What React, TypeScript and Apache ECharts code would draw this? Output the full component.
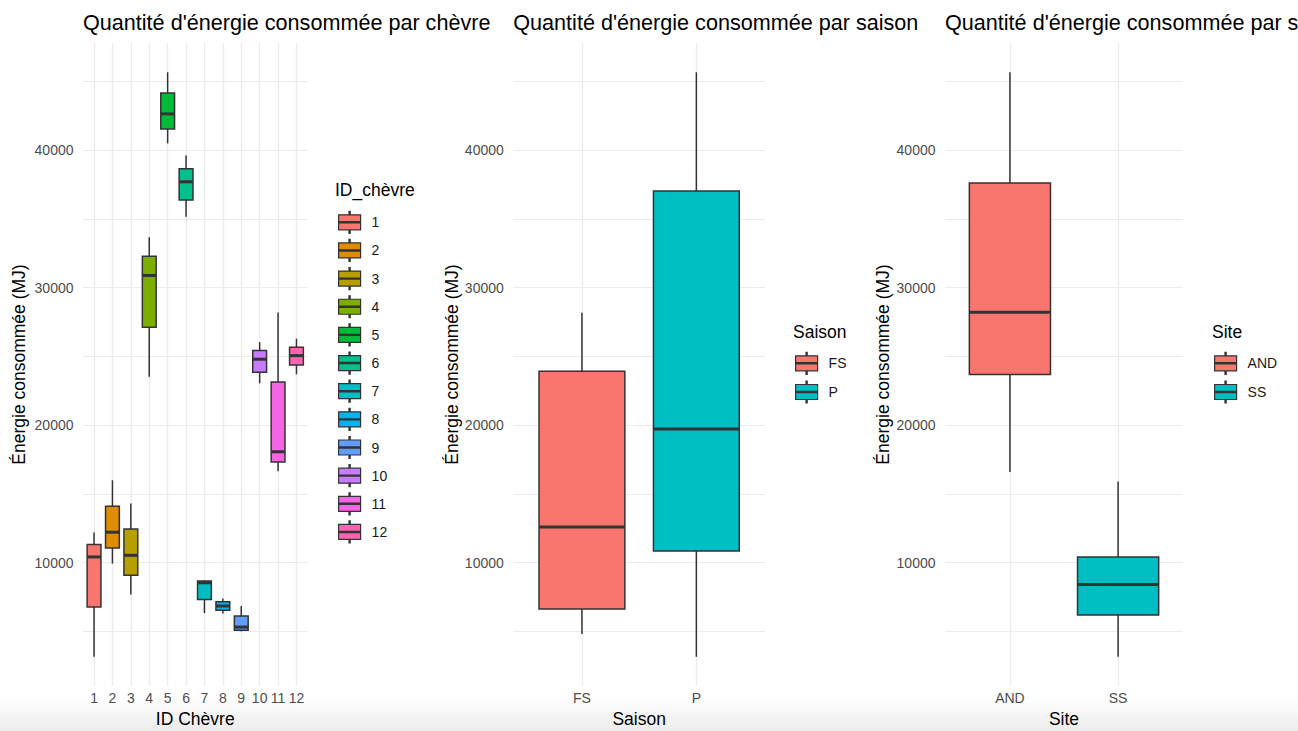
import React, { useEffect, useRef } from 'react';
import * as echarts from 'echarts';

// Energy consumed (MJ) per goat: five-number summaries
const goatIds = ['1', '2', '3', '4', '5', '6', '7', '8', '9', '10', '11', '12'];
const goatMin = [3150, 9930, 7670, 23520, 40490, 35150, 6330, 6290, 5000, 23040, 16650, 23690];
const goatQ1 = [6770, 11060, 9080, 27120, 41540, 36370, 7310, 6530, 5070, 23840, 17310, 24370];
const goatMedian = [10410, 12210, 10530, 30880, 42630, 37690, 8530, 6840, 5310, 24790, 18060, 25050];
const goatQ3 = [11310, 14100, 12450, 32270, 44150, 38640, 8660, 7160, 6110, 25420, 23130, 25660];
const goatMax = [12180, 15990, 14300, 33660, 45660, 39610, 8710, 7380, 6840, 26030, 28180, 26280];

// Energy consumed per season
const seasons = ['FS', 'P'];
const seasonMin = [4810, 3150];
const seasonQ1 = [6620, 10850];
const seasonMedian = [12590, 19710];
const seasonQ3 = [23910, 37030];
const seasonMax = [28170, 45660];

// Energy consumed per site
const sites = ['AND', 'SS'];
const siteMin = [16580, 3150];
const siteQ1 = [23670, 6180];
const siteMedian = [28200, 8400];
const siteQ3 = [37610, 10410];
const siteMax = [45660, 15900];

// y axis tick labels and grid lines
const yLabelTicks = [10000, 20000, 30000, 40000];
const yGridTicks = [5000, 10000, 15000, 20000, 25000, 30000, 35000, 40000, 45000];

const goatColors = [
  '#F8766D', '#DE8C00', '#B79F00', '#7CAE00', '#00BA38', '#00C08B',
  '#00BFC4', '#00B4F0', '#619CFF', '#C77CFF', '#F564E3', '#FF64B0',
];
const pairColors = ['#F8766D', '#00BFC4'];

const FONT = "'Liberation Sans', Arial, Helvetica, sans-serif";
const OUTLINE = '#333333';
const GRID_COLOR = '#ebebeb';
const LEGEND_ICON =
  'path://M0,3.5H22V18.5H0Z M0,10.4H22V11.6H0Z M10.4,0H11.6V3.5H10.4Z M10.4,18.5H11.6V22H10.4Z';

const allValues = [
  ...goatMin, ...goatMax, ...seasonMin, ...seasonMax, ...siteMin, ...siteMax,
];
const dataLo = Math.min(...allValues);
const dataHi = Math.max(...allValues);
const yPad = (dataHi - dataLo) * 0.05;
const yMin = dataLo - yPad;
const yMax = dataHi + yPad;

type Panel = {
  title: string;
  names: string[];
  mins: number[];
  q1s: number[];
  medians: number[];
  q3s: number[];
  maxs: number[];
  colors: string[];
  xName: string;
  legendTitle: string;
  left: number;
  width: number;
  yNameGap: number;
  legendLeft: number;
  legendTop: number;
  legendGap: number;
  legendTitleLeft: number;
  legendTitleTop: number;
};

const panels: Panel[] = [
  {
    title: "Quantité d'énergie consommée par chèvre",
    names: goatIds, mins: goatMin, q1s: goatQ1, medians: goatMedian, q3s: goatQ3, maxs: goatMax,
    colors: goatColors, xName: 'ID Chèvre', legendTitle: 'ID_chèvre',
    left: 83, width: 224.5, yNameGap: 55,
    legendLeft: 338, legendTop: 210.7, legendGap: 4.95, legendTitleLeft: 335, legendTitleTop: 181,
  },
  {
    title: "Quantité d'énergie consommée par saison",
    names: seasons, mins: seasonMin, q1s: seasonQ1, medians: seasonMedian, q3s: seasonQ3, maxs: seasonMax,
    colors: pairColors, xName: 'Saison', legendTitle: 'Saison',
    left: 513.3, width: 251.7, yNameGap: 52.5,
    legendLeft: 795, legendTop: 351.7, legendGap: 5.5, legendTitleLeft: 793, legendTitleTop: 322.5,
  },
  {
    title: "Quantité d'énergie consommée par site",
    names: sites, mins: siteMin, q1s: siteQ1, medians: siteMedian, q3s: siteQ3, maxs: siteMax,
    colors: pairColors, xName: 'Site', legendTitle: 'Site',
    left: 945, width: 238, yNameGap: 53,
    legendLeft: 1214, legendTop: 351.7, legendGap: 5.5, legendTitleLeft: 1212, legendTitleTop: 322.5,
  },
];

// Draws one box: whiskers, the Q1-Q3 box and a thick median bar
function boxRenderer(color: string) {
  return (_params: any, api: any) => {
    const x = api.value(0);
    const lo = api.coord([x, api.value(1)]);
    const q1 = api.coord([x, api.value(2)]);
    const md = api.coord([x, api.value(3)]);
    const q3 = api.coord([x, api.value(4)]);
    const hi = api.coord([x, api.value(5)]);
    const unit = api.size([1, 0])[0];
    const half = unit * 0.375;
    const cx = lo[0];
    const whisker = { stroke: OUTLINE, lineWidth: 1.5 };
    return {
      type: 'group',
      children: [
        { type: 'line', shape: { x1: cx, y1: hi[1], x2: cx, y2: q3[1] }, style: whisker },
        { type: 'line', shape: { x1: cx, y1: q1[1], x2: cx, y2: lo[1] }, style: whisker },
        {
          type: 'rect',
          shape: { x: cx - half, y: q3[1], width: half * 2, height: q1[1] - q3[1] },
          style: { fill: color, stroke: OUTLINE, lineWidth: 1.5 },
        },
        {
          type: 'line',
          shape: { x1: cx - half, y1: md[1], x2: cx + half, y2: md[1] },
          style: { stroke: OUTLINE, lineWidth: 3 },
        },
      ],
    };
  };
}

function buildOption() {
  const titleStyle = { fontFamily: FONT, fontWeight: 'normal' as const, color: '#000000' };
  const titles: any[] = [];
  const grids: any[] = [];
  const xAxes: any[] = [];
  const yAxes: any[] = [];
  const legends: any[] = [];
  const series: any[] = [];

  panels.forEach((p, i) => {
    const positions = p.names.map((_, j) => j + 1);
    titles.push({
      text: p.title, left: p.left, top: 11.5, padding: 0,
      textStyle: { ...titleStyle, fontSize: 21.6 },
    });
    titles.push({
      text: p.legendTitle, left: p.legendTitleLeft, top: p.legendTitleTop, padding: 0,
      textStyle: { ...titleStyle, fontSize: 17.5 },
    });
    grids.push({
      left: p.left, width: p.width, top: 43, height: 643,
      containLabel: false, outerBoundsMode: 'none',
    });
    xAxes.push({
      type: 'value', gridIndex: i, min: 0.4, max: p.names.length + 0.6,
      axisLine: { show: false },
      axisTick: { show: false, customValues: positions },
      axisLabel: {
        customValues: positions,
        formatter: (v: number) => p.names[Math.round(v) - 1] ?? '',
        color: '#4d4d4d', fontSize: 14, fontFamily: FONT, margin: 5,
      },
      splitLine: { show: true, customValues: positions, lineStyle: { color: GRID_COLOR, width: 1.3 } },
      name: p.xName, nameLocation: 'middle', nameGap: 23,
      nameTextStyle: { color: '#000000', fontSize: 17.5, fontFamily: FONT },
    });
    yAxes.push({
      type: 'value', gridIndex: i, min: yMin, max: yMax,
      axisLine: { show: false },
      axisTick: { show: false, customValues: yGridTicks },
      axisLabel: {
        customValues: yLabelTicks,
        formatter: (v: number) => String(Math.round(v)),
        color: '#4d4d4d', fontSize: 14, fontFamily: FONT, margin: 9.5,
      },
      splitLine: { show: true, customValues: yGridTicks, lineStyle: { color: GRID_COLOR, width: 1.2 } },
      name: 'Énergie consommée (MJ)', nameLocation: 'middle', nameGap: p.yNameGap,
      nameTextStyle: { color: '#000000', fontSize: 17.5, fontFamily: FONT },
    });
    legends.push({
      data: p.names, orient: 'vertical', left: p.legendLeft, top: p.legendTop, padding: 0,
      itemWidth: 22, itemHeight: 22, itemGap: p.legendGap, icon: LEGEND_ICON,
      selectedMode: false,
      itemStyle: { borderColor: OUTLINE, borderWidth: 1.2 },
      textStyle: { color: '#1a1a1a', fontSize: 14, fontFamily: FONT, padding: [0, 0, 0, 6] },
    });
    p.names.forEach((name, j) => {
      series.push({
        type: 'custom', name, xAxisIndex: i, yAxisIndex: i, silent: true, z: 3,
        encode: { x: 0, y: [1, 2, 3, 4, 5] },
        itemStyle: { color: p.colors[j] },
        renderItem: boxRenderer(p.colors[j]),
        data: [[j + 1, p.mins[j], p.q1s[j], p.medians[j], p.q3s[j], p.maxs[j]]],
      });
    });
  });

  return {
    animation: false,
    backgroundColor: '#ffffff',
    textStyle: { fontFamily: FONT },
    title: titles,
    grid: grids,
    xAxis: xAxes,
    yAxis: yAxes,
    legend: legends,
    series,
    graphic: [
      {
        type: 'rect', z: -1, silent: true,
        shape: { x: 0, y: 696, width: 1298, height: 35 },
        style: {
          fill: new echarts.graphic.LinearGradient(0, 0, 0, 1, [
            { offset: 0, color: 'rgba(0,0,0,0)' },
            { offset: 1, color: 'rgba(0,0,0,0.075)' },
          ]),
        },
      },
    ],
  };
}

export default function App() {
  const ref = useRef<HTMLDivElement>(null);

  useEffect(() => {
    document.body.style.margin = '0';
    if (!ref.current) return;
    const chart = echarts.init(ref.current, null, { renderer: 'svg' });
    chart.setOption(buildOption() as any);
    return () => chart.dispose();
  }, []);

  return <div ref={ref} style={{ width: 1298, height: 731 }} />;
}
